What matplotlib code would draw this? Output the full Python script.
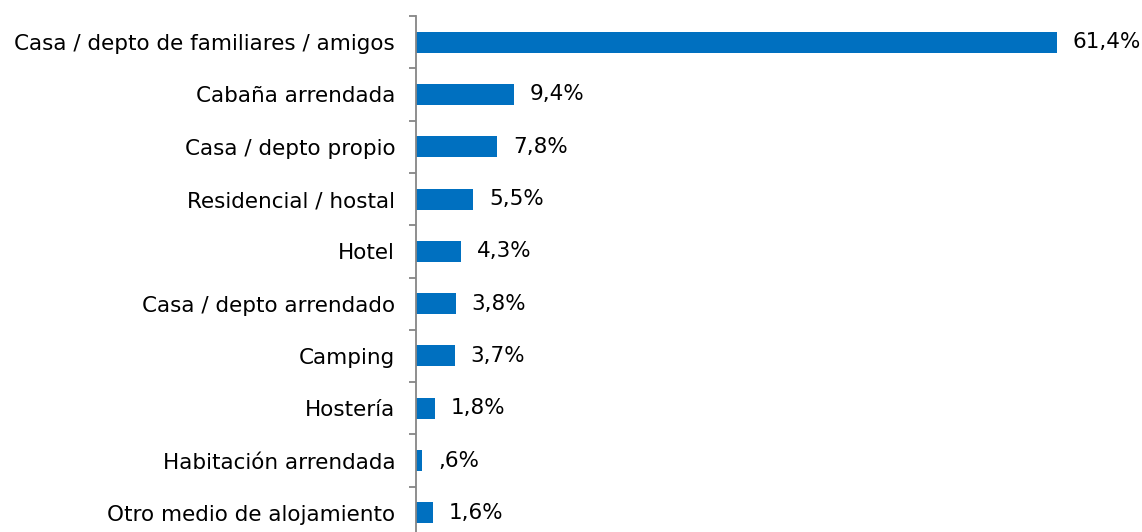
import matplotlib.pyplot as plt
import numpy as np

# Datos
categorias = ['Casa / depto de familiares / amigos', 'Cabaña arrendada', 'Casa / depto propio',
              'Residencial / hostal', 'Hotel', 'Casa / depto arrendado', 'Camping', 'Hostería',
              'Habitación arrendada', 'Otro medio de alojamiento']
valores = [61.4, 9.4, 7.8, 5.5, 4.3, 3.8, 3.7, 1.8, 0.6, 1.6]

def etiqueta(v):
    s = f"{v:.1f}".replace('.', ',')
    if s.startswith('0'):
        s = s[1:]
    return s + '%'

fig = plt.figure(figsize=(11.42, 5.32), dpi=100)
ax = fig.add_axes([416/1142, -7/532, 1 - 416/1142, 523/532])

y = np.arange(len(categorias))
ax.barh(y, valores, height=0.4, color='#0070C0')
ax.set_ylim(len(categorias) - 0.5, -0.5)
ax.set_xlim(0, (1142 - 416) / 10.44)

for yi, v in zip(y, valores):
    ax.annotate(etiqueta(v), (v, yi), xytext=(11.5, 0), textcoords='offset points',
                va='center', ha='left', fontsize=15.5, color='black')

# etiquetas de categoría en el eje y, ticks en los bordes
ax.set_yticks(y)
ax.set_yticklabels(categorias, fontsize=15.5)
ax.tick_params(axis='y', which='major', length=0, pad=15)
ax.set_yticks(np.arange(-0.5, len(categorias) + 0.5, 1), minor=True)
ax.tick_params(axis='y', which='minor', length=5, width=1.3, color='#868686')
ax.set_xticks([])

for s in ['top', 'right', 'bottom']:
    ax.spines[s].set_visible(False)
ax.spines['left'].set_color('#868686')
ax.spines['left'].set_linewidth(1.3)

fig.savefig('out.png', dpi=100)
